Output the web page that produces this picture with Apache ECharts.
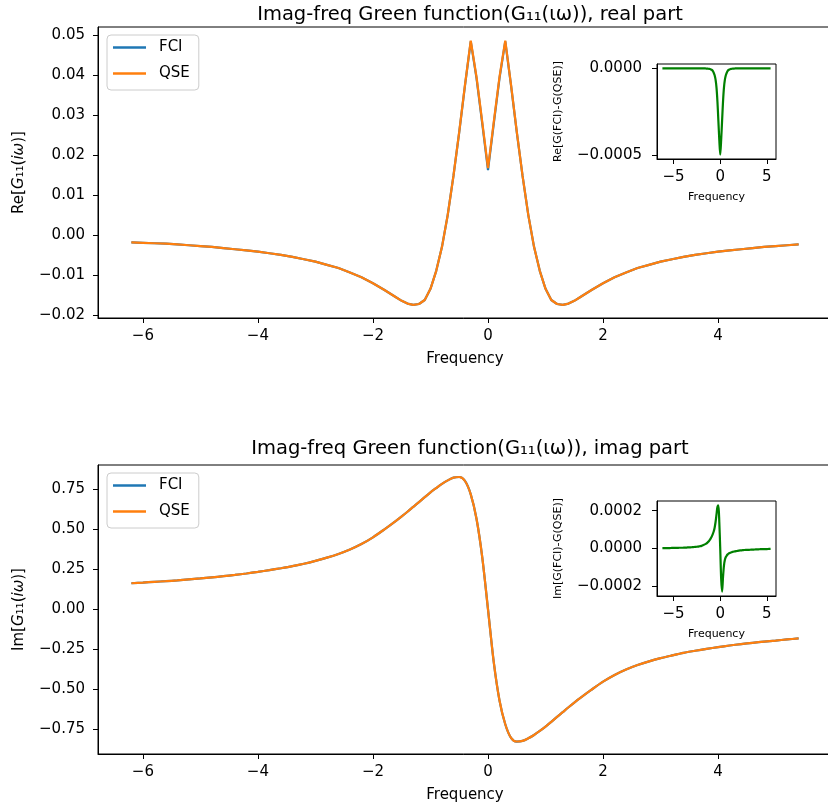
<!DOCTYPE html>
<html>
<head>
<meta charset="utf-8">
<title>Imag-freq Green function</title>
<script src="https://cdn.jsdelivr.net/npm/echarts@6/dist/echarts.min.js"></script>
<style>
  html, body { margin: 0; padding: 0; background: #fff; }
  #main { width: 828px; height: 812px; }
</style>
</head>
<body>
<div id="main"></div>
<script>
// imaginary frequency grid
const freq = [
  -6.2, -6.0, -5.8, -5.6, -5.4, -5.2, -5.0, -4.8, -4.6, -4.4, -4.2, -4.0,
  -3.8, -3.6, -3.4, -3.2, -3.0, -2.8, -2.6, -2.4, -2.2, -2.0, -1.8, -1.6,
  -1.5, -1.4, -1.3, -1.2, -1.1, -1.0, -0.9, -0.8, -0.7, -0.6, -0.5, -0.4, -0.3, -0.2, -0.1,
  0.0,
  0.1, 0.2, 0.3, 0.4, 0.5, 0.6, 0.7, 0.8, 0.9, 1.0, 1.1, 1.2, 1.3, 1.4, 1.5,
  1.6, 1.8, 2.0, 2.2, 2.4, 2.6, 2.8, 3.0, 3.2, 3.4, 3.6, 3.8, 4.0, 4.2, 4.4, 4.6, 4.8, 5.0, 5.2, 5.4
]

// Re[G11(iw)]
const reQSE = [
  -0.0019, -0.0020, -0.0021, -0.0022, -0.0024, -0.0026, -0.0028, -0.0030, -0.0033, -0.0036, -0.0039, -0.0042,
  -0.0046, -0.0050, -0.0055, -0.0061, -0.0067, -0.0075, -0.0083, -0.0094, -0.0106, -0.0121, -0.0138, -0.0156,
  -0.0165, -0.0172, -0.0175, -0.0173, -0.0163, -0.0135, -0.0090, -0.0030, 0.0050, 0.0148, 0.0258, 0.0375, 0.0486, 0.0395, 0.0282,
  0.0167,
  0.0282, 0.0395, 0.0486, 0.0375, 0.0258, 0.0148, 0.0050, -0.0030, -0.0090, -0.0135, -0.0163, -0.0173, -0.0175, -0.0172, -0.0165,
  -0.0156, -0.0138, -0.0121, -0.0106, -0.0094, -0.0083, -0.0075, -0.0067, -0.0061, -0.0055, -0.0050, -0.0046, -0.0042, -0.0039, -0.0036, -0.0033, -0.0030, -0.0028, -0.0026, -0.0024
]
const reFCI = [
  -0.0019, -0.0020, -0.0021, -0.0022, -0.0024, -0.0026, -0.0028, -0.0030, -0.0033, -0.0036, -0.0039, -0.0042,
  -0.0046, -0.0050, -0.0055, -0.0061, -0.0067, -0.0075, -0.0083, -0.0094, -0.0106, -0.0121, -0.0138, -0.0156,
  -0.0165, -0.0172, -0.0175, -0.0173, -0.0163, -0.0135, -0.0090, -0.0030, 0.0050, 0.0148, 0.0257, 0.0374, 0.0484, 0.0392, 0.0278,
  0.0162,
  0.0278, 0.0392, 0.0484, 0.0374, 0.0257, 0.0148, 0.0050, -0.0030, -0.0090, -0.0135, -0.0163, -0.0173, -0.0175, -0.0172, -0.0165,
  -0.0156, -0.0138, -0.0121, -0.0106, -0.0094, -0.0083, -0.0075, -0.0067, -0.0061, -0.0055, -0.0050, -0.0046, -0.0042, -0.0039, -0.0036, -0.0033, -0.0030, -0.0028, -0.0026, -0.0024
]
const reDiff = [
  0, 0, 0, 0, 0, 0, 0, 0, 0, 0, 0, 0,
  0, 0, 0, 0, 0, 0, 0, 0, 0, 0, 0, 0,
  -0.000001, -0.000001, -0.000002, -0.000003, -0.000004, -0.000006, -0.000009, -0.000015, -0.000025, -0.00004, -0.000065, -0.00011, -0.00019, -0.0003, -0.00041,
  -0.000495,
  -0.00041, -0.0003, -0.00019, -0.00011, -0.000065, -0.00004, -0.000025, -0.000015, -0.000009, -0.000006, -0.000004, -0.000003, -0.000002, -0.000001, -0.000001,
  0, 0, 0, 0, 0, 0, 0, 0, 0, 0, 0, 0, 0, 0, 0, 0, 0, 0, 0, 0
]

// Im[G11(iw)]
const imQSE = [
  0.163, 0.167, 0.172, 0.176, 0.181, 0.187, 0.193, 0.200, 0.207, 0.215, 0.224, 0.234,
  0.245, 0.257, 0.270, 0.285, 0.303, 0.323, 0.346, 0.374, 0.408, 0.450, 0.500, 0.553,
  0.581, 0.610, 0.640, 0.670, 0.701, 0.731, 0.758, 0.784, 0.806, 0.823, 0.827, 0.802, 0.718, 0.566, 0.325,
  0.000,
  -0.330, -0.570, -0.718, -0.803, -0.826, -0.822, -0.806, -0.785, -0.760, -0.733, -0.703, -0.672, -0.642, -0.612, -0.583,
  -0.555, -0.502, -0.452, -0.410, -0.376, -0.348, -0.325, -0.305, -0.288, -0.272, -0.259, -0.247, -0.236, -0.226, -0.217, -0.209, -0.202, -0.195, -0.188, -0.182
]
const imFCI = [
  0.163, 0.167, 0.172, 0.176, 0.181, 0.187, 0.193, 0.200, 0.207, 0.215, 0.224, 0.234,
  0.245, 0.257, 0.270, 0.285, 0.303, 0.323, 0.346, 0.374, 0.408, 0.450, 0.500, 0.553,
  0.581, 0.610, 0.640, 0.670, 0.701, 0.731, 0.758, 0.784, 0.8061, 0.8231, 0.8271, 0.8022, 0.7182, 0.5662, 0.3251,
  0.000,
  -0.3302, -0.5702, -0.7182, -0.8031, -0.8261, -0.822, -0.806, -0.785, -0.760, -0.733, -0.703, -0.672, -0.642, -0.612, -0.583,
  -0.555, -0.502, -0.452, -0.410, -0.376, -0.348, -0.325, -0.305, -0.288, -0.272, -0.259, -0.247, -0.236, -0.226, -0.217, -0.209, -0.202, -0.195, -0.188, -0.182
]
const imDiff = [
  0.000002, 0.000002, 0.000002, 0.000002, 0.000002, 0.000003, 0.000003, 0.000003, 0.000003, 0.000004, 0.000004, 0.000004,
  0.000005, 0.000005, 0.000006, 0.000006, 0.000007, 0.000008, 0.000009, 0.00001, 0.000012, 0.000014, 0.000018, 0.000023,
  0.000026, 0.00003, 0.000035, 0.00004, 0.000047, 0.000055, 0.000064, 0.000076, 0.00009, 0.00011, 0.00014, 0.00018, 0.00022, 0.000228, 0.00014,
  0,
  -0.00016, -0.000228, -0.00015, -0.00009, -0.00006, -0.000045, -0.000037, -0.000031, -0.000027, -0.000024, -0.000022, -0.00002, -0.000018, -0.000017, -0.000016,
  -0.000015, -0.000013, -0.000011, -0.00001, -0.000009, -0.000008, -0.0000075, -0.000007, -0.0000065, -0.000006, -0.0000055, -0.000005, -0.0000045, -0.000004, -0.0000035, -0.000003, -0.000003, -0.000003, -0.0000025, -0.000002
]

// tick labels
const freqTicks = [-6, -4, -2, 0, 2, 4]
const insetFreqTicks = [-5, 0, 5]
const reTicks = [-0.02, -0.01, 0.00, 0.01, 0.02, 0.03, 0.04, 0.05]
const imTicks = [-0.75, -0.50, -0.25, 0.00, 0.25, 0.50, 0.75]
const reDiffTicks = [-0.0005, 0.0000]
const imDiffTicks = [-0.0002, 0.0000, 0.0002]

const FONT = 'DejaVu Sans'
const BLUE = '#1f77b4'
const ORANGE = '#ff7f0e'
const GREEN = '#008000'

function pairs (ys) {
  return freq.map((x, i) => [x, ys[i]])
}

function fmt (digits) {
  return function (v) {
    const s = Math.abs(v).toFixed(digits)
    return (v < 0 && Number(s) !== 0 ? '\u2212' : '') + s
  }
}

function valueAxis (o) {
  return {
    type: 'value',
    gridIndex: o.grid,
    min: o.min,
    max: o.max,
    name: o.name,
    nameLocation: 'middle',
    nameGap: o.nameGap,
    nameRotate: o.rotate || 0,
    nameTextStyle: {
      fontFamily: FONT,
      fontSize: o.nameSize,
      color: '#000',
      rich: {
        i: { fontFamily: FONT, fontSize: o.nameSize, fontStyle: 'italic', color: '#000' }
      }
    },
    axisLine: { show: true, onZero: false, lineStyle: { color: '#000', width: 1 } },
    axisTick: { show: true, customValues: o.ticks, length: 5, lineStyle: { color: '#000', width: 1 } },
    axisLabel: {
      customValues: o.ticks,
      margin: o.margin,
      formatter: fmt(o.digits),
      fontFamily: FONT,
      fontSize: 15,
      color: '#000'
    },
    splitLine: { show: false }
  }
}

function gridBox (left, top, width, height) {
  return {
    left: left,
    top: top,
    width: width,
    height: height,
    outerBoundsMode: 'none',
    show: true,
    borderColor: '#000',
    borderWidth: 1,
    backgroundColor: '#fff'
  }
}

function legendAt (top) {
  return {
    orient: 'vertical',
    left: 107,
    top: top,
    data: ['FCI', 'QSE'],
    icon: 'rect',
    itemWidth: 33,
    itemHeight: 2.5,
    itemGap: 11,
    padding: [5, 9, 9, 6],
    backgroundColor: 'rgba(255,255,255,0.8)',
    borderColor: '#cccccc',
    borderWidth: 1,
    borderRadius: 4,
    selectedMode: false,
    textStyle: { fontFamily: FONT, fontSize: 15, color: '#000', lineHeight: 15, padding: [0, 0, 0, 8] }
  }
}

function lineSeries (name, color, xi, ys, smooth) {
  return {
    name: name,
    type: 'line',
    xAxisIndex: xi,
    yAxisIndex: xi,
    data: pairs(ys),
    showSymbol: false,
    symbol: 'none',
    smooth: smooth,
    lineStyle: { color: color, width: 2.2 },
    itemStyle: { color: color },
    emphasis: { disabled: true }
  }
}

function titleAt (text, top) {
  return {
    text: text,
    left: 465,
    top: top,
    textAlign: 'center',
    textStyle: { fontFamily: FONT, fontSize: 19.5, fontWeight: 'normal', color: '#000' }
  }
}

const chart = echarts.init(document.getElementById('main'), null, { renderer: 'canvas' })

const option = {
  animation: false,
  backgroundColor: '#fff',
  title: [
    titleAt('Imag-freq Green function(G\u2081\u2081(\u03b9\u03c9)), real part', 0),
    titleAt('Imag-freq Green function(G\u2081\u2081(\u03b9\u03c9)), imag part', 434)
  ],
  legend: [legendAt(35), legendAt(473)],
  grid: [
    gridBox(98, 27, 734, 291),
    gridBox(98, 465, 734, 289),
    gridBox(657, 64, 119, 95),
    gridBox(657, 501, 119, 95)
  ],
  xAxis: [
    valueAxis({ grid: 0, min: -6.78, max: 5.98, ticks: freqTicks, digits: 0, margin: 11, name: 'Frequency', nameGap: 34, nameSize: 15 }),
    valueAxis({ grid: 1, min: -6.78, max: 5.98, ticks: freqTicks, digits: 0, margin: 11, name: 'Frequency', nameGap: 34, nameSize: 15 }),
    valueAxis({ grid: 2, min: -6.78, max: 5.98, ticks: insetFreqTicks, digits: 0, margin: 11, name: 'Frequency', nameGap: 33, nameSize: 11 }),
    valueAxis({ grid: 3, min: -6.78, max: 5.98, ticks: insetFreqTicks, digits: 0, margin: 11, name: 'Frequency', nameGap: 33, nameSize: 11 })
  ],
  yAxis: [
    valueAxis({ grid: 0, min: -0.0208, max: 0.052, ticks: reTicks, digits: 2, margin: 13, name: 'Re[{i|G}\u2081\u2081({i|i\u03c9})]', nameGap: 71, nameSize: 15, rotate: 90 }),
    valueAxis({ grid: 1, min: -0.904, max: 0.902, ticks: imTicks, digits: 2, margin: 13, name: 'Im[{i|G}\u2081\u2081({i|i\u03c9})]', nameGap: 71, nameSize: 15, rotate: 90 }),
    valueAxis({ grid: 2, min: -0.00052, max: 0.000025, ticks: reDiffTicks, digits: 4, margin: 15, name: 'Re[G(FCI)-G(QSE)]', nameGap: 93, nameSize: 11, rotate: 90 }),
    valueAxis({ grid: 3, min: -0.000251, max: 0.000251, ticks: imDiffTicks, digits: 4, margin: 15, name: 'Im[G(FCI)-G(QSE)]', nameGap: 93, nameSize: 11, rotate: 90 })
  ],
  series: [
    lineSeries('FCI', BLUE, 0, reFCI, false),
    lineSeries('QSE', ORANGE, 0, reQSE, false),
    lineSeries('FCI', BLUE, 1, imFCI, 0.3),
    lineSeries('QSE', ORANGE, 1, imQSE, 0.3),
    lineSeries('diff', GREEN, 2, reDiff, 0.3),
    lineSeries('diff', GREEN, 3, imDiff, 0.3)
  ]
}

chart.setOption(option)
</script>
</body>
</html>
